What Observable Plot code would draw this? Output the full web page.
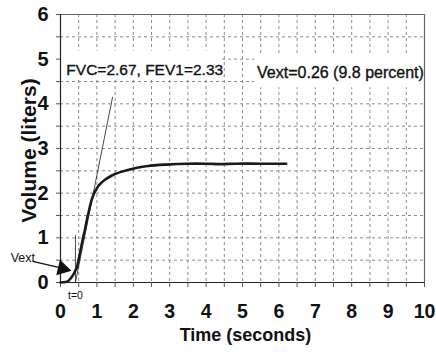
<!DOCTYPE html>
<html>
<head>
<meta charset="utf-8">
<script src="https://cdn.jsdelivr.net/npm/d3@7"></script>
<script src="https://cdn.jsdelivr.net/npm/@observablehq/plot@0.6"></script>
<style>
  html, body { margin: 0; padding: 0; background: #fff; }
  #chart { width: 436px; height: 354px; overflow: hidden; }
</style>
</head>
<body>
<div id="chart"></div>
<script>
// ---- data ----
const xTickLabels = [0, 1, 2, 3, 4, 5, 6, 7, 8, 9, 10];
const yTickLabels = [0, 1, 2, 3, 4, 5, 6];
const xGrid = [0.5, 1, 1.5, 2, 2.5, 3, 3.5, 4, 4.5, 5, 5.5, 6, 6.5, 7, 7.5, 8, 8.5, 9, 9.5];
const yGrid = [0.5, 1, 1.5, 2, 2.5, 3, 3.5, 4, 4.5, 5, 5.5];
const xMinorTicks = [0, 0.5, 1, 1.5, 2, 2.5, 3, 3.5, 4, 4.5, 5, 5.5, 6, 6.5, 7, 7.5, 8, 8.5, 9, 9.5, 10];
const yMinorTicks = [0, 0.5, 1, 1.5, 2, 2.5, 3, 3.5, 4, 4.5, 5, 5.5, 6];

// volume-time curve (seconds, liters)
const curveTime   = [0, 0.14, 0.22, 0.30, 0.36, 0.41, 0.45, 0.50, 0.57, 0.62, 0.675, 0.73, 0.78, 0.82, 0.86, 0.91, 0.97, 1.04, 1.12, 1.22, 1.40, 1.60, 1.85, 2.10, 2.40, 2.90, 3.50, 4.00, 4.40, 4.80, 5.50, 6.20];
const curveVolume = [0, 0.01, 0.04, 0.11, 0.19, 0.27, 0.34, 0.52, 0.80, 1.00, 1.20, 1.42, 1.60, 1.74, 1.86, 1.97, 2.07, 2.16, 2.23, 2.30, 2.39, 2.46, 2.52, 2.57, 2.61, 2.64, 2.66, 2.66, 2.65, 2.66, 2.66, 2.66];

// back-extrapolation tangent and time-zero marker
const tangentTime   = [0.41, 1.43];
const tangentVolume = [0, 4.15];
const timeZero = 0.41;
const timeZeroTop = 1.05;

const fvcLabel  = "FVC=2.67, FEV1=2.33";
const vextLabel = "Vext=0.26 (9.8 percent)";

const curve   = curveTime.map((t, i) => ({t, v: curveVolume[i]}));
const tangent = tangentTime.map((t, i) => ({t, v: tangentVolume[i]}));

const FONT = "'Liberation Sans', Arial, Helvetica, sans-serif";
const GRID = "#8a8a8a";

const plot = Plot.plot({
  width: 436,
  height: 354,
  marginLeft: 60,
  marginRight: 12,
  marginTop: 14,
  marginBottom: 72,
  style: {fontFamily: FONT, background: "#fff", color: "#111", overflow: "visible"},
  x: {domain: [0, 10]},
  y: {domain: [0, 6]},
  marks: [
    // dashed grid
    Plot.ruleX(xGrid, {stroke: GRID, strokeWidth: 1, strokeDasharray: "3,3"}),
    Plot.ruleY(yGrid, {stroke: GRID, strokeWidth: 1, strokeDasharray: "3,3"}),
    // white boxes behind annotations
    Plot.rect([0], {x1: 0.02, x2: 4.43, y1: 4.56, y2: 5.18, fill: "#fff"}),
    Plot.rect([0], {x1: 5.33, x2: 10, y1: 4.36, y2: 5.09, fill: "#fff"}),
    // frame
    Plot.ruleY([6], {stroke: "#666", strokeWidth: 1.2}),
    Plot.ruleX([10], {stroke: "#666", strokeWidth: 1.2}),
    Plot.ruleX([0], {stroke: "#222", strokeWidth: 1.2}),
    Plot.ruleY([0], {stroke: "#222", strokeWidth: 1.2}),
    // minor ticks
    Plot.axisX({ticks: xMinorTicks, tickSize: 5, tickFormat: () => "", label: null, stroke: "#555"}),
    Plot.axisY({ticks: yMinorTicks, tickSize: 4, tickFormat: () => "", label: null, stroke: "#555"}),
    // tick labels
    Plot.axisX({ticks: xTickLabels, tickSize: 0, tickPadding: 22, tickFormat: d => String(d), fontSize: 19.5, fontWeight: "bold", label: null, fill: "#111"}),
    Plot.axisY({ticks: yTickLabels, tickSize: 0, tickPadding: 12, tickFormat: d => String(d), fontSize: 20, fontWeight: "bold", label: null, fill: "#111"}),
    // axis titles
    Plot.text([0], {frameAnchor: "bottom", text: () => "Time (seconds)", dy: 53, dx: 3, textAnchor: "middle", lineAnchor: "middle", fontSize: 18, fontWeight: "bold", fill: "#111"}),
    Plot.text([0], {frameAnchor: "left", text: () => "Volume (liters)", rotate: -90, dx: -31, dy: 2, textAnchor: "middle", lineAnchor: "middle", fontSize: 21, fontWeight: "bold", fill: "#111"}),
    // tangent and time-zero line
    Plot.line(tangent, {x: "t", y: "v", stroke: "#333", strokeWidth: 0.9}),
    Plot.ruleX([timeZero], {y1: 0, y2: timeZeroTop, stroke: "#333", strokeWidth: 0.9}),
    // volume curve
    Plot.line(curve, {x: "t", y: "v", curve: "catmull-rom", stroke: "#1a1a1a", strokeWidth: 2.6}),
    // annotations
    Plot.text([0], {x: 0.16, y: 4.76, text: () => fvcLabel, textAnchor: "start", lineAnchor: "middle", fontSize: 15.5, fill: "#111", stroke: "#111", strokeWidth: 0.35}),
    Plot.text([0], {x: 5.4, y: 4.70, text: () => vextLabel, textAnchor: "start", lineAnchor: "middle", fontSize: 16, fill: "#111", stroke: "#111", strokeWidth: 0.35}),
    Plot.text([0], {x: timeZero, y: -0.21, text: () => "t=0", textAnchor: "middle", lineAnchor: "top", fontSize: 10.5, fill: "#111", clip: false}),
    Plot.text([0], {x: -1.37, y: 0.46, text: () => "Vext", textAnchor: "start", lineAnchor: "bottom", fontSize: 12.5, fill: "#111"}),
    // Vext arrow
    Plot.link([0], {x1: -0.765, y1: 0.474, x2: 0.1, y2: 0.31, stroke: "#111", strokeWidth: 1.2}),
    Plot.dot([0], {x: 0.057, y: 0.31, symbol: "triangle", r: 5.9, fill: "#111", stroke: "none", rotate: 103.6})
  ]
});

document.getElementById("chart").appendChild(plot);
</script>
</body>
</html>
